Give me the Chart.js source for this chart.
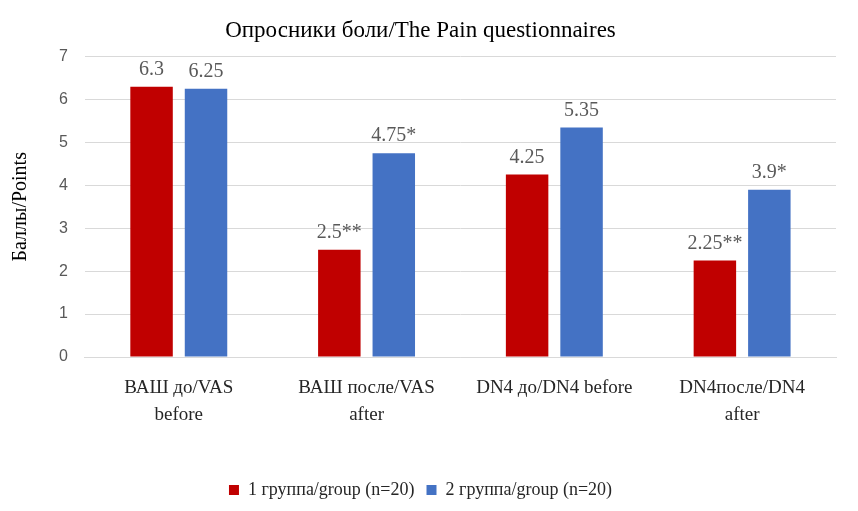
<!DOCTYPE html>
<html>
<head>
<meta charset="utf-8">
<script src="https://cdn.jsdelivr.net/npm/chart.js@4"></script>
<style>
  html, body { margin: 0; padding: 0; background: #fff; }
  #wrap { width: 858px; height: 511px; }
</style>
</head>
<body>
<div id="wrap"><canvas id="painChart"></canvas></div>
<script>
/* ===== DATA ===== */

const categories = [
  ['ВАШ до/VAS', 'before'],
  ['ВАШ после/VAS', 'after'],
  'DN4 до/DN4 before',
  ['DN4после/DN4', 'after'],
];

const group1Values = [6.3, 2.5, 4.25, 2.25];
const group2Values = [6.25, 4.75, 5.35, 3.9];

const group1Labels = ['6.3', '2.5**', '4.25', '2.25**'];
const group2Labels = ['6.25', '4.75*', '5.35', '3.9*'];

const yTicks = [0, 1, 2, 3, 4, 5, 6, 7];

/* ===== HELPERS ===== */

const SERIF = '"Liberation Serif", "DejaVu Serif", serif';
const SANS = '"Liberation Sans", "DejaVu Sans", sans-serif';

// value labels above each bar
const barLabelPlugin = {
  id: 'barLabels',
  afterDatasetsDraw(chart) {
    const { ctx } = chart;
    const texts = [group1Labels, group2Labels];
    ctx.save();
    ctx.font = '20px ' + SERIF;
    ctx.fillStyle = '#595959';
    ctx.textAlign = 'center';
    ctx.textBaseline = 'bottom';
    chart.data.datasets.forEach((ds, i) => {
      chart.getDatasetMeta(i).data.forEach((bar, j) => {
        ctx.fillText(texts[i][j], bar.x, bar.y - 7);
      });
    });
    ctx.restore();
  }
};

/* ===== CHART ===== */

new Chart(document.getElementById('painChart'), {
  type: 'bar',
  data: {
    labels: categories,
    datasets: [
      {
        label: '1 группа/group (n=20)',
        data: group1Values,
        backgroundColor: '#c00000',
        categoryPercentage: 0.58,
        barPercentage: 0.78,
      },
      {
        label: '2 группа/group (n=20)',
        data: group2Values,
        backgroundColor: '#4472c4',
        categoryPercentage: 0.58,
        barPercentage: 0.78,
      },
    ]
  },
  options: {
    responsive: true,
    maintainAspectRatio: false,
    animation: false,
    layout: { padding: { left: 5, right: 22, top: 0, bottom: 2 } },
    plugins: {
      title: {
        display: true,
        text: 'Опросники боли/The Pain questionnaires',
        font: { family: SERIF, size: 23, weight: 'normal' },
        color: '#000',
        padding: { top: 17, bottom: 12 },
      },
      legend: {
        position: 'bottom',
        labels: {
          font: { family: SERIF, size: 18 },
          color: '#262626',
          usePointStyle: true,
          pointStyle: 'rect',
          boxWidth: 10,
          boxHeight: 10,
          padding: 12,
        }
      },
      tooltip: { enabled: false }
    },
    scales: {
      x: {
        grid: { display: false },
        border: { color: '#d9d9d9' },
        ticks: {
          font: { family: SERIF, size: 19, lineHeight: 1.4 },
          color: '#262626',
          maxRotation: 0,
          padding: 10,
        },
        afterFit(scale) { scale.height = 112; }
      },
      y: {
        min: 0,
        max: 7,
        afterBuildTicks(scale) { scale.ticks = yTicks.map(v => ({ value: v })); },
        grid: { color: '#d9d9d9', drawTicks: false },
        border: { display: false },
        ticks: {
          font: { family: SANS, size: 16 },
          color: '#595959',
          padding: 17,
        },
        title: {
          display: true,
          text: 'Баллы/Points',
          font: { family: SERIF, size: 20 },
          color: '#000',
          padding: { bottom: 9 },
        }
      }
    }
  },
  plugins: [barLabelPlugin]
});
</script>
</body>
</html>
